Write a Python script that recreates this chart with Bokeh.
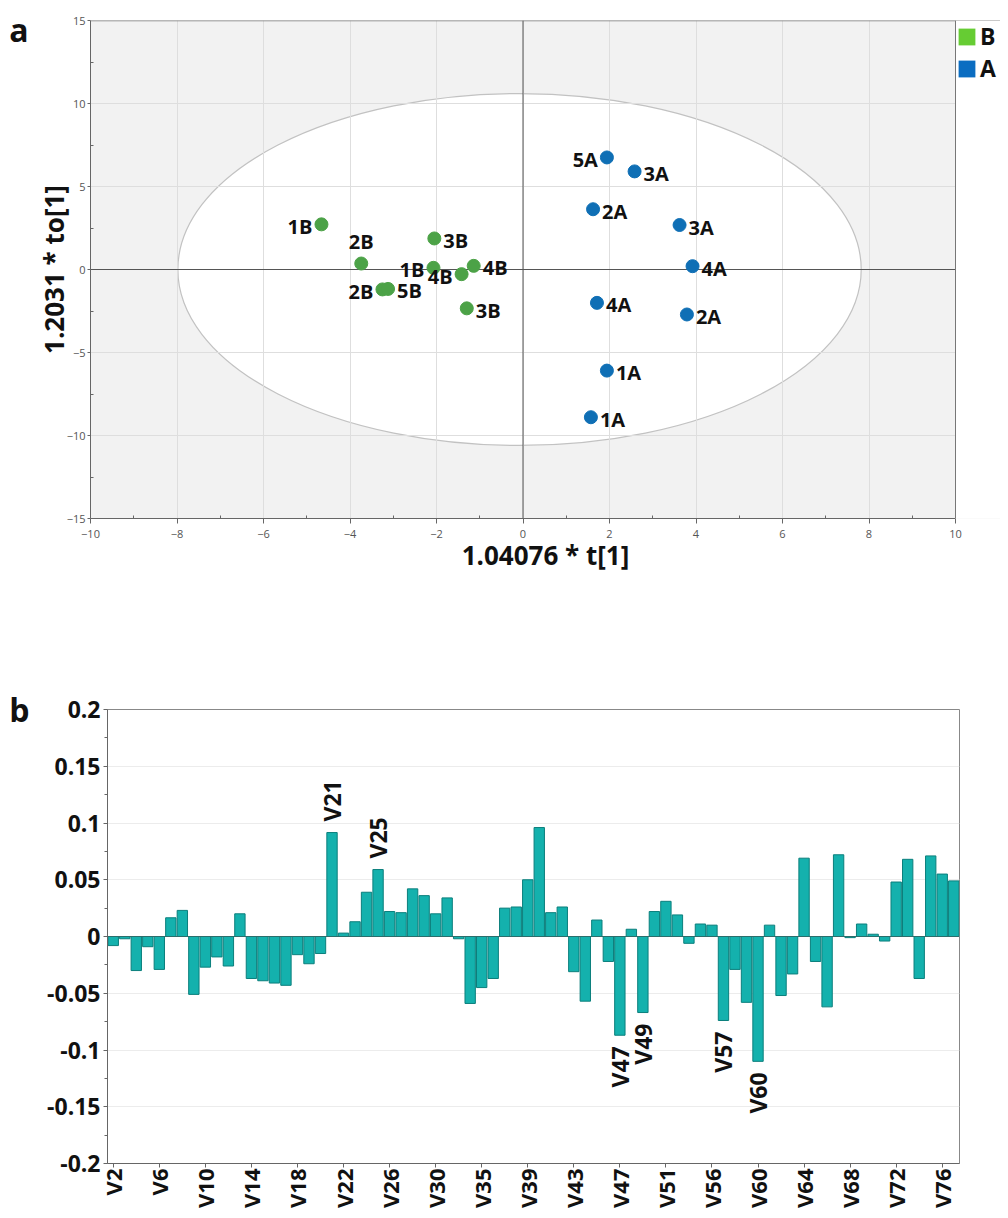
import numpy as np
from bokeh.plotting import figure
from bokeh.models import (ColumnDataSource, FixedTicker, Span, Legend, LegendItem,
                          BoxAnnotation, LinearAxis)
from bokeh.core.properties import value
from bokeh.embed import file_html
from bokeh.resources import INLINE

# ---------------- panel a : OPLS-DA score plot ----------------
b_labels = ["1B", "2B", "3B", "1B", "4B", "4B", "2B", "5B", "3B"]
b_t = [-4.66, -3.74, -2.05, -2.07, -1.42, -1.14, -3.25, -3.12, -1.30]
b_to = [2.72, 0.36, 1.87, 0.10, -0.28, 0.22, -1.20, -1.17, -2.34]

a_labels = ["5A", "3A", "2A", "3A", "4A", "4A", "2A", "1A", "1A"]
a_t = [1.94, 2.58, 1.62, 3.62, 3.92, 1.71, 3.79, 1.94, 1.57]
a_to = [6.75, 5.91, 3.63, 2.68, 0.20, -2.01, -2.71, -6.09, -8.90]

groups = ["B", "A"]
panel_letters = ["a", "b"]
x_title_a = "1.04076 * t[1]"
y_title_a = "1.2031 * to[1]"
x_ticks_a = [-10, -8, -6, -4, -2, 0, 2, 4, 6, 8, 10]
y_ticks_a = [-15, -10, -5, 0, 5, 10, 15]
ellipse_center = [-0.08, 0.0]
ellipse_axes = [7.9, 10.6]          # semi-axes of Hotelling T2 ellipse

# label placement (style)
b_side = ["left", "above", "right", "left", "left", "right", "left", "right", "right"]
a_side = ["left", "right", "right", "right", "right", "right", "right", "right", "right"]

# ---------------- panel b : loadings ----------------
var_numbers = list(range(2, 33)) + list(range(34, 54)) + list(range(55, 78))
var_names = ["V%d" % n for n in var_numbers]
loadings = [
    -0.008, -0.002, -0.030, -0.009, -0.029, 0.0165, 0.023, -0.051, -0.027, -0.018,
    -0.026, 0.020, -0.037, -0.039, -0.041, -0.043, -0.016, -0.024, -0.015, 0.0916,
    0.003, 0.013, 0.039, 0.059, 0.022, 0.021, 0.042, 0.036, 0.020, 0.034,
    -0.002, -0.059, -0.045, -0.037, 0.025, 0.026, 0.050, 0.096, 0.021, 0.026,
    -0.031, -0.057, 0.0145, -0.022, -0.087, 0.0064, -0.067, 0.022, 0.031, 0.019,
    -0.006, 0.011, 0.010, -0.074, -0.029, -0.058, -0.110, 0.010, -0.052, -0.033,
    0.069, -0.022, -0.062, 0.072, -0.001, 0.011, 0.002, -0.004, 0.048, 0.068,
    -0.037, 0.071, 0.055, 0.049,
]
tick_names_b = ["V2", "V6", "V10", "V14", "V18", "V22", "V26", "V30", "V35", "V39",
                "V43", "V47", "V51", "V56", "V60", "V64", "V68", "V72", "V76"]
highlight_b = ["V21", "V25", "V47", "V49", "V57", "V60"]
y_ticks_b = [-0.2, -0.15, -0.1, -0.05, 0, 0.05, 0.1, 0.15, 0.2]
y_tick_labels_b = ["-0.2", "-0.15", "-0.1", "-0.05", "0", "0.05", "0.1", "0.15", "0.2"]

FONT = "Open Sans"
GREEN_PT, BLUE_PT = "#4ca247", "#0f6fb5"
GREEN_LG, BLUE_LG = "#66cc33", "#0b6dc1"
W = 1000
H_A, H_B = 632, 578

# letter anchors (layout, in each panel's y units)
letter_pos = [14.48, 0.2]


def add_letter(p, letter, pos, standoff):
    ax = LinearAxis(ticker=FixedTicker(ticks=[pos]), major_label_overrides={pos: letter},
                    axis_line_color=None, major_tick_line_color=None,
                    minor_tick_line_color=None, major_tick_out=0, major_tick_in=0,
                    major_label_standoff=standoff, major_label_text_font=FONT,
                    major_label_text_font_size="32px", major_label_text_font_style="bold",
                    major_label_text_color="#111111")
    p.add_layout(ax, "left")


# ---- layout of panel a: plot area 90..955 px for -10..10, legend strip to its right
A_LEFT, A_RIGHT = 90, 955
px_per_unit = (A_RIGHT - A_LEFT) / (x_ticks_a[-1] - x_ticks_a[0])
x_end_a = x_ticks_a[-1] + (W - A_RIGHT) / px_per_unit

# ================= figure a =================
pa = figure(width=W, height=H_A, x_range=(x_ticks_a[0], x_end_a), y_range=(-15, 15),
            output_backend="svg", toolbar_location=None,
            min_border_left=A_LEFT, min_border_right=0, min_border_top=20, min_border_bottom=114)
pa.background_fill_color = "#f2f2f2"
pa.border_fill_color = "white"
pa.outline_line_color = None

pa.ellipse(x=ellipse_center[0], y=ellipse_center[1], width=2 * ellipse_axes[0],
           height=2 * ellipse_axes[1], fill_color="white", line_color="#c2c2c2",
           line_width=1.2, level="underlay")

for g in (pa.xgrid, pa.ygrid):
    g.grid_line_color = "#dedede"
    g.grid_line_width = 1
pa.xgrid.ticker = FixedTicker(ticks=x_ticks_a)
pa.ygrid.ticker = FixedTicker(ticks=y_ticks_a)

pa.add_layout(Span(location=0, dimension="height", line_color="#555555", line_width=1, level="underlay"))
pa.add_layout(Span(location=0, dimension="width", line_color="#555555", line_width=1, level="underlay"))
pa.add_layout(Span(location=y_ticks_a[-1], dimension="width", line_color="#777777", line_width=1.5))
# white strip right of the plot area (legend zone)
pa.add_layout(BoxAnnotation(left=x_ticks_a[-1], right=x_end_a, bottom=y_ticks_a[0], top=y_ticks_a[-1],
                            fill_color="white", fill_alpha=1.0, line_color=None))
pa.add_layout(Span(location=x_ticks_a[-1], dimension="height", line_color="#777777", line_width=1))

side_style = {
    "right": (9, 2, "left", "middle"),
    "left": (-9, 2, "right", "middle"),
    "above": (0, -9, "center", "bottom"),
}


def label_source(xs, ys, labels, sides):
    return ColumnDataSource(dict(
        x=xs, y=ys, text=labels,
        xo=[side_style[s][0] for s in sides],
        yo=[side_style[s][1] for s in sides],
        al=[side_style[s][2] for s in sides],
        bl=[side_style[s][3] for s in sides],
    ))


src_b = label_source(b_t, b_to, b_labels, b_side)
src_a = label_source(a_t, a_to, a_labels, a_side)

pa.scatter(x="x", y="y", source=src_b, size=13, fill_color=GREEN_PT, line_color=GREEN_PT)
pa.scatter(x="x", y="y", source=src_a, size=13, fill_color=BLUE_PT, line_color=BLUE_PT)
for src in (src_b, src_a):
    pa.text(x="x", y="y", text="text", source=src, x_offset="xo", y_offset="yo",
            text_align="al", text_baseline="bl", text_font=value(FONT),
            text_font_size="20px", text_font_style="bold", text_color="#111111")

# legend proxies: zero-width bars at the group points (not visible), square legend swatches
rB = pa.vbar(x="x", top="y", bottom="y", width=0, source=src_b, fill_color=GREEN_LG, line_color=None)
rA = pa.vbar(x="x", top="y", bottom="y", width=0, source=src_a, fill_color=BLUE_LG, line_color=None)
legend = Legend(items=[LegendItem(label=groups[0], renderers=[rB]),
                       LegendItem(label=groups[1], renderers=[rA])],
                location=(866, 434), orientation="vertical",
                background_fill_alpha=0, border_line_color=None,
                padding=0, margin=0, spacing=0, glyph_width=21, glyph_height=21,
                label_standoff=3, label_text_font=FONT,
                label_text_font_size="23px", label_text_font_style="bold",
                label_text_color="#111111")
pa.add_layout(legend)

pa.xaxis.ticker = FixedTicker(ticks=x_ticks_a, minor_ticks=[v + 1 for v in x_ticks_a[:-1]])
pa.xaxis.bounds = (x_ticks_a[0], x_ticks_a[-1])
pa.yaxis.ticker = FixedTicker(ticks=y_ticks_a, minor_ticks=[v + 2.5 for v in y_ticks_a[:-1]])
for ax in (pa.xaxis[0], pa.yaxis[0]):
    ax.axis_line_color = "#666666"
    ax.major_tick_line_color = "#666666"
    ax.minor_tick_line_color = "#666666"
    ax.major_tick_in = 0
    ax.minor_tick_in = 3
    ax.minor_tick_out = 0
    ax.major_label_text_font = FONT
    ax.major_label_text_font_size = "11px"
    ax.major_label_text_color = "#555555"
    ax.axis_label_text_font = FONT
    ax.axis_label_text_font_size = "26px"
    ax.axis_label_text_font_style = "bold"
    ax.axis_label_text_color = "#111111"
pa.xaxis.major_tick_out = 5
pa.xaxis.major_label_standoff = 6
pa.xaxis.axis_label_standoff = -4
pa.yaxis.major_tick_out = 3
pa.yaxis.major_label_standoff = 2
pa.yaxis.axis_label_standoff = -8
pa.xaxis.axis_label = x_title_a
pa.yaxis.axis_label = y_title_a
add_letter(pa, panel_letters[0], letter_pos[0], 4)

# ================= figure b =================
n_vars = len(var_names)
xb = list(range(n_vars))
src_load = ColumnDataSource(dict(x=xb, top=loadings))

B_LEFT, B_TOP = 107, 77
pb = figure(width=W, height=H_B, x_range=(-0.5, n_vars - 0.5),
            y_range=(y_ticks_b[0], y_ticks_b[-1]),
            output_backend="svg", toolbar_location=None,
            min_border_left=B_LEFT, min_border_right=41, min_border_top=B_TOP, min_border_bottom=40)
pb.background_fill_color = "white"
pb.outline_line_color = "#888888"
pb.xgrid.visible = False
pb.ygrid.grid_line_color = "#ececec"
pb.ygrid.ticker = FixedTicker(ticks=y_ticks_b)

pb.vbar(x="x", top="top", bottom=0, width=0.9, source=src_load,
        fill_color="#14b1ad", line_color="#0b7f7c", line_width=1)
pb.add_layout(Span(location=0, dimension="width", line_color="#2b6e6c", line_width=1))

hi_idx = [var_names.index(n) for n in highlight_b]
hi_val = [loadings[i] for i in hi_idx]
src_hi = ColumnDataSource(dict(
    x=hi_idx, y=hi_val, text=highlight_b,
    al=["left" if v > 0 else "right" for v in hi_val],
    yo=[-11 if v > 0 else 11 for v in hi_val],
))
pb.text(x="x", y="y", text="text", source=src_hi, angle=np.pi / 2, y_offset="yo",
        text_align="al", text_baseline="middle", text_font=value(FONT),
        text_font_size="23px", text_font_style="bold", text_color="#111111")

tick_pos_b = [var_names.index(n) for n in tick_names_b]
pb.xaxis.ticker = FixedTicker(ticks=tick_pos_b)
pb.xaxis.major_label_overrides = {p: n for p, n in zip(tick_pos_b, tick_names_b)}
pb.xaxis.major_label_orientation = np.pi / 2
pb.xaxis.major_tick_out = 4
pb.xaxis.major_tick_in = 0
pb.xaxis.major_label_standoff = 1

pb.yaxis.ticker = FixedTicker(ticks=y_ticks_b,
                              minor_ticks=[v + 0.025 for v in y_ticks_b[:-1]])
pb.yaxis.major_label_overrides = {t: l for t, l in zip(y_ticks_b, y_tick_labels_b)}
pb.yaxis.major_tick_out = 4
pb.yaxis.major_tick_in = 0
pb.yaxis.minor_tick_out = 3
pb.yaxis.minor_tick_in = 0
pb.yaxis.major_label_standoff = 3
for ax in (pb.xaxis[0], pb.yaxis[0]):
    ax.axis_line_color = "#666666"
    ax.major_tick_line_color = "#666666"
    ax.minor_tick_line_color = "#666666"
    ax.major_label_text_font = FONT
    ax.major_label_text_font_size = "23px"
    ax.major_label_text_font_style = "bold"
    ax.major_label_text_color = "#111111"
pb.xaxis.major_label_text_font_size = "22px"
pb.xaxis.minor_tick_line_color = None
add_letter(pb, panel_letters[1], letter_pos[1], 15)

# two independent roots (no cross-plot frame alignment)
open("out.html", "w").write(file_html([pa, pb], INLINE))
